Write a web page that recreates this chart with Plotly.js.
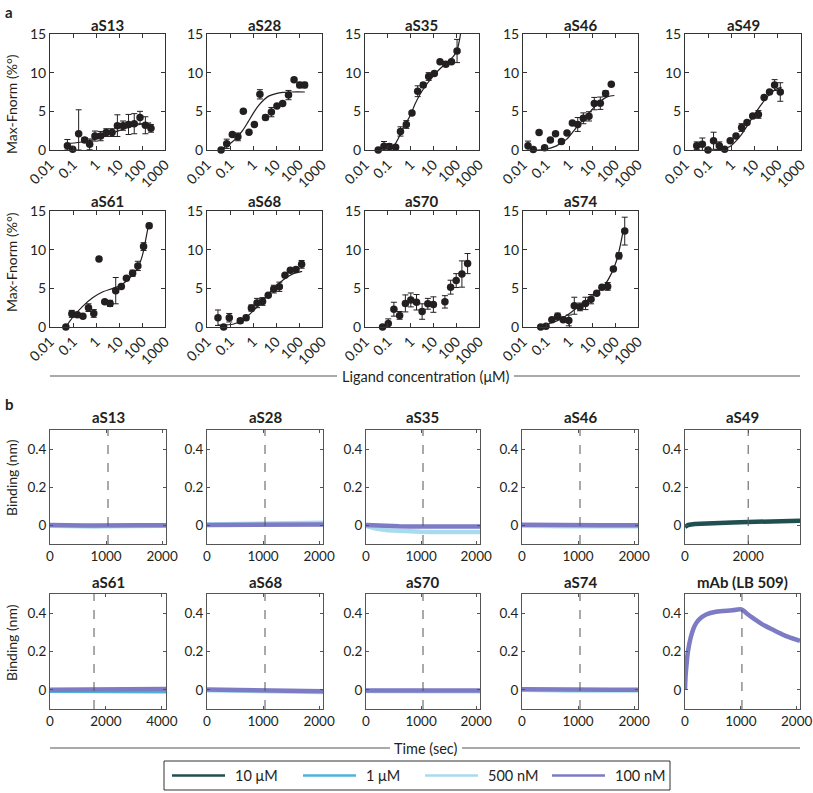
<!DOCTYPE html>
<html><head><meta charset="utf-8">
<script src="https://cdn.plot.ly/plotly-3.0.1.min.js"></script>
<style>html,body{margin:0;padding:0;background:#fff}</style>
</head><body><div id="chart" style="width:813px;height:793px"></div>
<script>
// ================= DATA =================
// Panel a: ligand concentration (µM) vs Max-Fnorm (%°)
const concTicks = [0.01, 0.1, 1, 10, 100, 1000];
const concTickText = ['0.01', '0.1', '1', '10', '100', '1000'];
const fnormTicks = [0, 5, 10, 15];

const aS13_x = [0.057,0.097,0.176,0.32,0.53,0.9,1.6,2.8,5,8.5,15,26,46,82,140,245];
const aS13_y = [0.56,0.1,2.1,1.3,0.73,1.8,1.8,2.25,2.25,3.15,3.15,3.3,3.4,4.2,3.2,2.8];
const aS13_err = [0.8,0,3.1,0.3,0.7,0.65,0.6,0.5,0.5,1.4,0.6,1.3,1.3,0.8,1.1,0.5];
const aS13_errMinus = [0.56,0,2.1,0.3,0.7,0.65,0.6,0.5,0.5,1.4,0.6,1.3,1.3,0.8,1.1,0.5];
const aS13_fitX = [0.05,0.2,1,3,10,30,80,250];
const aS13_fitY = [0.8,1.0,1.4,1.9,2.5,3.0,3.3,3.5];

const aS28_x = [0.041,0.072,0.126,0.22,0.38,0.67,1.15,2.0,3.5,6.3,11,19.5,35,61,107,176];
const aS28_y = [0,0.8,2.0,1.7,5.0,2.3,3.3,7.2,4.2,4.9,5.7,6.0,7.1,9.1,8.4,8.4];
const aS28_err = [0,0.6,0,0.5,0,0,0,0.6,0.3,0.6,0,0,0.6,0,0.35,0.35];
const aS28_fitX = [0.04,0.07,0.12,0.2,0.35,0.6,1,1.7,3,5,10,20,50,180];
const aS28_fitY = [0.1,0.5,1.0,1.6,2.5,3.6,4.7,5.7,6.5,7.0,7.3,7.45,7.5,7.5];

const aS35_x = [0.038,0.068,0.117,0.22,0.36,0.65,1.15,2.05,3.6,6.2,11,19.5,35,62,109];
const aS35_y = [0,0.5,0.45,0.35,2.4,3.3,4.8,7.6,8.4,9.5,9.9,11.4,11.1,11.4,12.8];
const aS35_err = [0,0.6,0.35,0,0.6,0.5,0,0.7,0.3,0.5,0,0.15,0.3,0,1.5];
const aS35_fitX = [0.038,0.105,0.175,0.29,0.47,0.94,1.55,2.6,5.1,10,19.5,38,75,109,141,160];
const aS35_fitY = [0,0,0.45,1.5,2.85,4.4,5.9,7.2,8.5,9.6,10.5,11.3,12.1,12.9,14.3,15.3];

const aS46_x = [0.0165,0.028,0.05,0.087,0.155,0.26,0.47,0.82,1.4,2.4,4.2,7.4,12.6,23,39,69];
const aS46_y = [0.55,0.05,2.25,0.3,1.3,2.1,1.1,2.2,3.5,3.3,4.1,4.35,6.0,6.05,7.3,8.5];
const aS46_err = [0.6,0,0.25,0,0,0,0.25,0,0,0.9,0.7,0.6,0.8,0.8,0.35,0];
const aS46_fitX = [0.027,0.1,0.27,0.8,2.2,6.3,17.6,48,94];
const aS46_fitY = [0,0.1,0.5,1.4,3.0,4.55,6.0,6.9,7.05];

const aS49_x = [0.032,0.056,0.098,0.17,0.3,0.51,0.89,1.58,2.75,4.7,8.3,14.6,25.7,44,73,128];
const aS49_y = [0.55,0.75,0,1.2,0.55,0.1,1.2,1.8,2.9,3.55,4.4,4.6,6.8,7.5,8.4,7.5];
const aS49_err = [0.5,0.8,0,1.1,0.5,0,0,0,0.5,0,0,0.5,0,0,0.7,1.2];
const aS49_fitX = [0.17,0.32,0.87,2.35,6.3,17,46,89,146];
const aS49_fitY = [0,0.05,0.45,1.75,3.7,5.65,7.25,7.9,8.1];

const aS61_x = [0.049,0.089,0.155,0.27,0.47,0.8,1.35,2.4,4.1,7.2,12.6,21,39,66,117,205];
const aS61_y = [0,1.7,1.6,1.4,2.5,1.75,8.8,3.25,3.05,4.7,5.25,6.3,6.95,7.9,10.4,13.1];
const aS61_err = [0,0.45,0,0,0.5,0.5,0,0,0.4,1.7,0,0,0.4,0.6,0.5,0.3];
const aS61_fitX = [0.049,0.1,0.27,0.74,2.0,5.4,12,28,64,105,145,187];
const aS61_fitY = [0,1.3,2.7,3.8,4.55,5.0,5.4,6.3,7.6,9.3,11.3,13.0];

const aS68_x = [0.03,0.053,0.093,0.28,0.5,0.85,1.5,2.6,4.6,8,14,24.5,42,74,130];
const aS68_y = [1.2,0,1.2,0.8,1.2,2.45,3.1,3.3,4.1,4.9,5.2,6.7,7.35,7.45,8.1];
const aS68_err = [1.0,0,0.55,0.3,0.3,0.4,0.6,0.5,0,0.5,0.6,0,0,0,0.5];
const aS68_fitX = [0.03,0.134,0.37,1.0,2.8,7.6,21,57,137];
const aS68_fitY = [0.25,0.35,0.95,2.05,3.45,4.95,6.1,6.9,7.2];

const aS70_x = [0.059,0.105,0.185,0.33,0.59,1.02,1.82,3.2,5.7,10,32,57,100,178,316];
const aS70_y = [0,0.45,2.3,1.5,3.05,3.5,3.2,2.0,3.0,2.9,3.25,5.15,6.0,6.85,8.2];
const aS70_err = [0,0.6,0.9,0.5,1.1,0.9,1.0,1.0,0.7,1.0,0.8,0.9,0.9,1.7,1.3];

const aS74_x = [0.059,0.1,0.18,0.32,0.56,0.98,1.7,3.0,5.2,9.1,16,27,48,85,148,265];
const aS74_y = [0,0.1,0.95,1.4,0.95,0.85,2.75,2.6,3.05,3.6,4.35,5.15,5.25,7.5,9.2,12.4];
const aS74_err = [0,0,0,0.4,0,0.7,1.1,0.5,0.8,0.6,0,0.2,0.5,0,0.4,1.8];
const aS74_fitX = [0.059,0.146,0.39,1.06,2.75,7.1,19,37,72,120,168,236];
const aS74_fitY = [0,0.45,0.95,1.75,2.7,3.6,4.6,5.5,7.0,8.7,10.5,12.7];

// Panel b: time (sec) vs binding (nm)
const concNames = ['10 μM', '1 μM', '500 nM', '100 nM'];
const concColors = ['#1f4f50', '#4fb2dc', '#a8dbef', '#7c7bc3'];
const bindTicks = [0, 0.2, 0.4];
const bindTickText = ['0', '0.2', '0.4'];

const tStd = [0,200,400,600,800,1000,1200,1400,1600,1800,2070];
const aS13b_500nM = [-0.004,-0.006,-0.008,-0.009,-0.008,-0.007,-0.006,-0.005,-0.004,-0.004,-0.004];
const aS13b_100nM = [0,-0.002,-0.003,-0.002,-0.002,-0.003,-0.002,-0.002,-0.001,-0.001,-0.001];
const aS28b_500nM = [0.002,0.003,0.004,0.004,0.005,0.006,0.008,0.01,0.012,0.012,0.012];
const aS28b_100nM = [0,0,0.001,0.001,0.001,0.001,0.001,0.002,0.002,0.002,0.002];
const aS35b_500nM = [-0.005,-0.02,-0.028,-0.032,-0.035,-0.036,-0.037,-0.037,-0.037,-0.037,-0.037];
const aS35b_100nM = [0,-0.004,-0.006,-0.007,-0.008,-0.008,-0.008,-0.008,-0.008,-0.008,-0.008];
const aS46b_500nM = [-0.004,-0.006,-0.007,-0.007,-0.007,-0.007,-0.007,-0.007,-0.007,-0.007,-0.007];
const aS46b_100nM = [0.001,0,0,0,0,-0.001,-0.001,-0.001,-0.001,-0.001,-0.001];
const tS49 = [0,100,300,600,1000,1500,2000,2500,3000,3640];
const aS49b_10uM = [-0.01,0,0.005,0.008,0.011,0.013,0.016,0.018,0.02,0.022];
const tS61 = [0,500,1000,1500,2000,2500,3000,3500,4150];
const aS61b_1uM = [-0.005,-0.006,-0.007,-0.007,-0.008,-0.008,-0.008,-0.008,-0.008];
const aS61b_100nM = [0,0,0.001,0.002,0.004,0.004,0.004,0.004,0.004];
const aS68b_500nM = [-0.002,-0.003,-0.004,-0.005,-0.006,-0.007,-0.008,-0.009,-0.01,-0.01,-0.011];
const aS68b_100nM = [0.002,0.001,0,-0.001,-0.002,-0.003,-0.004,-0.005,-0.006,-0.007,-0.008];
const aS70b_500nM = [-0.006,-0.007,-0.008,-0.008,-0.008,-0.008,-0.008,-0.008,-0.008,-0.008,-0.008];
const aS70b_100nM = [-0.003,-0.004,-0.004,-0.004,-0.004,-0.004,-0.004,-0.004,-0.004,-0.004,-0.003];
const aS74b_500nM = [0,-0.002,-0.003,-0.003,-0.003,-0.004,-0.004,-0.004,-0.004,-0.004,-0.004];
const aS74b_100nM = [0.003,0.002,0.001,0.001,0,0,0,0,0,0,0];
const tMab = [0,10,30,50,100,150,200,263,380,555,848,1010,1100,1200,1300,1433,1600,1725,1850,2060];
const mAb_100nM = [0,0.07,0.14,0.195,0.27,0.318,0.348,0.37,0.393,0.407,0.415,0.42,0.40,0.378,0.358,0.334,0.31,0.292,0.276,0.256];

// ================= LAYOUT HELPERS =================
const W = 813, H = 793;
const fx = px => px / W;
const fy = py => 1 - py / H;
const FONT = 'Lato, "Open Sans", sans-serif';
const TXT = '#231f20';

const aCols = [[50,165],[207,322],[365,479],[523,638],[685,801]];
const aRows = [[34,150],[211,327]];
const bCols = [[50,166],[207,323],[366,480],[522,638],[685,800]];
const bRows = [[430,544],[594,709]];

const aPanels = [
  {name:'aS13', x:aS13_x, y:aS13_y, err:aS13_err, errMinus:aS13_errMinus, fx:aS13_fitX, fy:aS13_fitY},
  {name:'aS28', x:aS28_x, y:aS28_y, err:aS28_err, fx:aS28_fitX, fy:aS28_fitY},
  {name:'aS35', x:aS35_x, y:aS35_y, err:aS35_err, fx:aS35_fitX, fy:aS35_fitY},
  {name:'aS46', x:aS46_x, y:aS46_y, err:aS46_err, fx:aS46_fitX, fy:aS46_fitY},
  {name:'aS49', x:aS49_x, y:aS49_y, err:aS49_err, fx:aS49_fitX, fy:aS49_fitY},
  {name:'aS61', x:aS61_x, y:aS61_y, err:aS61_err, fx:aS61_fitX, fy:aS61_fitY},
  {name:'aS68', x:aS68_x, y:aS68_y, err:aS68_err, fx:aS68_fitX, fy:aS68_fitY},
  {name:'aS70', x:aS70_x, y:aS70_y, err:aS70_err},
  {name:'aS74', x:aS74_x, y:aS74_y, err:aS74_err, fx:aS74_fitX, fy:aS74_fitY}
];

const bPanels = [
  {name:'aS13', xmax:2070, dash:1035, ticks:[0,1000,2000], series:[{t:tStd,y:aS13b_500nM,c:2},{t:tStd,y:aS13b_100nM,c:3}]},
  {name:'aS28', xmax:2070, dash:1035, ticks:[0,1000,2000], series:[{t:tStd,y:aS28b_500nM,c:2},{t:tStd,y:aS28b_100nM,c:3}]},
  {name:'aS35', xmax:2070, dash:1035, ticks:[0,1000,2000], series:[{t:tStd,y:aS35b_500nM,c:2},{t:tStd,y:aS35b_100nM,c:3}]},
  {name:'aS46', xmax:2070, dash:1035, ticks:[0,1000,2000], series:[{t:tStd,y:aS46b_500nM,c:2},{t:tStd,y:aS46b_100nM,c:3}]},
  {name:'aS49', xmax:3640, dash:2000, ticks:[0,2000], series:[{t:tS49,y:aS49b_10uM,c:0}]},
  {name:'aS61', xmax:4150, dash:1575, ticks:[0,2000,4000], series:[{t:tS61,y:aS61b_1uM,c:1},{t:tS61,y:aS61b_100nM,c:3}]},
  {name:'aS68', xmax:2070, dash:1035, ticks:[0,1000,2000], series:[{t:tStd,y:aS68b_500nM,c:2},{t:tStd,y:aS68b_100nM,c:3}]},
  {name:'aS70', xmax:2070, dash:1035, ticks:[0,1000,2000], series:[{t:tStd,y:aS70b_500nM,c:2},{t:tStd,y:aS70b_100nM,c:3}]},
  {name:'aS74', xmax:2070, dash:1035, ticks:[0,1000,2000], series:[{t:tStd,y:aS74b_500nM,c:2},{t:tStd,y:aS74b_100nM,c:3}]},
  {name:'mAb (LB 509)', xmax:2060, dash:1020, ticks:[0,1000,2000], spline:true, series:[{t:tMab,y:mAb_100nM,c:3}]}
];

// ================= BUILD =================
const traces = [];
const annotations = [];
const shapes = [];
const layout = {
  width: W, height: H,
  margin: {l:0, r:0, t:0, b:0},
  paper_bgcolor: '#fff', plot_bgcolor: '#fff',
  showlegend: false,
  font: {family: FONT, size: 13, color: TXT}
};

function axisCommon(lineColor, fsize) {
  return {
    showline: true, mirror: 'ticks', linecolor: lineColor, linewidth: 1,
    ticks: 'inside', ticklen: 4, tickwidth: 1, tickcolor: lineColor,
    showgrid: false, zeroline: false, fixedrange: true, ticklabeloverflow: 'allow',
    tickfont: {family: FONT, size: fsize, color: TXT}
  };
}
function axKey(prefix, n) { return n === 1 ? prefix + 'axis' : prefix + 'axis' + n; }
function axRef(prefix, n) { return n === 1 ? prefix : prefix + n; }

function addTitle(text, cx, cy) {
  annotations.push({text: '<b>' + text + '</b>', xref:'paper', yref:'paper', x: fx(cx), y: fy(cy),
    xanchor:'center', yanchor:'middle', showarrow:false, font:{family: FONT, size: 15, color: TXT}});
}

let n = 0;
aPanels.forEach((p, i) => {
  n += 1;
  const col = aCols[i % 5], row = aRows[Math.floor(i / 5)];
  layout[axKey('x', n)] = Object.assign(axisCommon('#333', 14), {
    domain: [fx(col[0]), fx(col[1])], anchor: axRef('y', n), type: 'log', range: [-2, 3],
    tickmode: 'array', tickvals: concTicks, ticktext: concTickText, tickangle: -45
  });
  layout[axKey('y', n)] = Object.assign(axisCommon('#333', 14), {
    domain: [fy(row[1]), fy(row[0])], anchor: axRef('x', n), range: [0, 15],
    tickmode: 'array', tickvals: fnormTicks
  });
  if (p.fx) {
    traces.push({x: p.fx, y: p.fy, xaxis: axRef('x', n), yaxis: axRef('y', n), type: 'scatter', mode: 'lines',
      line: {color: TXT, width: 1.2, shape: 'spline', smoothing: 0.8}, cliponaxis: false, hoverinfo: 'skip'});
  }
  const ey = {type: 'data', array: p.err, visible: true, color: TXT, thickness: 1, width: 3};
  if (p.errMinus) { ey.symmetric = false; ey.arrayminus = p.errMinus; }
  traces.push({x: p.x, y: p.y, xaxis: axRef('x', n), yaxis: axRef('y', n), type: 'scatter', mode: 'markers',
    marker: {color: TXT, size: 7.5}, error_y: ey, cliponaxis: false, hoverinfo: 'skip'});
  addTitle(p.name, (col[0] + col[1]) / 2, i < 5 ? 25 : 201);
});

bPanels.forEach((p, i) => {
  n += 1;
  const col = bCols[i % 5], row = bRows[Math.floor(i / 5)];
  layout[axKey('x', n)] = Object.assign(axisCommon('#555', 13.5), {
    domain: [fx(col[0]), fx(col[1])], anchor: axRef('y', n), range: [0, p.xmax],
    tickmode: 'array', tickvals: p.ticks, ticklen: 3
  });
  layout[axKey('y', n)] = Object.assign(axisCommon('#555', 13.5), {
    domain: [fy(row[1]), fy(row[0])], anchor: axRef('x', n), range: [-0.1, 0.5],
    tickmode: 'array', tickvals: bindTicks, ticktext: bindTickText, ticklen: 3
  });
  shapes.push({type: 'line', xref: axRef('x', n), yref: axRef('y', n) + ' domain', x0: p.dash, x1: p.dash, y0: 0, y1: 1,
    line: {color: '#555', width: 1, dash: 'dash'}, layer: 'above'});
  p.series.forEach(s => {
    traces.push({x: s.t, y: s.y, xaxis: axRef('x', n), yaxis: axRef('y', n), type: 'scatter', mode: 'lines',
      line: {color: concColors[s.c], width: 4.5, shape: p.spline ? 'spline' : 'linear'}, hoverinfo: 'skip', name: concNames[s.c]});
  });
  addTitle(p.name, (col[0] + col[1]) / 2, i < 5 ? 417 : 582);
});

// Axis titles and panel letters
function addText(text, cx, cy, opts) {
  annotations.push(Object.assign({text: text, xref:'paper', yref:'paper', x: fx(cx), y: fy(cy),
    xanchor:'center', yanchor:'middle', showarrow:false, font:{family: FONT, size: 14, color: TXT}}, opts || {}));
}
addText('<b>a</b>', 3, 1, {xanchor: 'left', yanchor: 'top', font: {family: FONT, size: 15, color: TXT}});
addText('<b>b</b>', 3, 404, {xanchor: 'left', font: {family: FONT, size: 15, color: TXT}});
addText('Max-Fnorm (%°)', 11, 104, {textangle: -90});
addText('Max-Fnorm (%°)', 11, 262, {textangle: -90});
addText('Binding (nm)', 11, 478, {textangle: -90});
addText('Binding (nm)', 11, 643, {textangle: -90});
addText('Ligand concentration (μM)', 426, 376, {font: {family: FONT, size: 14.5, color: TXT}});
addText('Time (sec)', 426, 748, {font: {family: FONT, size: 14.5, color: TXT}});

function hline(x0, x1, y, color, width) {
  shapes.push({type: 'line', xref: 'paper', yref: 'paper', x0: fx(x0), x1: fx(x1), y0: fy(y), y1: fy(y),
    line: {color: color, width: width}});
}
hline(50, 337, 376, '#555', 1);
hline(514, 800, 376, '#555', 1);
hline(50, 390, 748, '#555', 1);
hline(462, 800, 748, '#555', 1);

// Legend (drawn manually)
shapes.push({type: 'rect', xref: 'paper', yref: 'paper', x0: fx(164), x1: fx(670), y0: fy(790), y1: fy(761),
  line: {color: '#333', width: 1}, fillcolor: 'rgba(0,0,0,0)'});
const legLineX = [172, 303, 425, 552];
const legLen = 53;
concNames.forEach((nm, k) => {
  hline(legLineX[k], legLineX[k] + legLen, 775.5, concColors[k], 2.5);
  addText(nm, legLineX[k] + legLen + 8, 775.5, {xanchor: 'left', font: {family: FONT, size: 14.5, color: TXT}});
});

layout.annotations = annotations;
layout.shapes = shapes;

Plotly.newPlot('chart', traces, layout, {staticPlot: true, displayModeBar: false});
</script>
</body></html>
